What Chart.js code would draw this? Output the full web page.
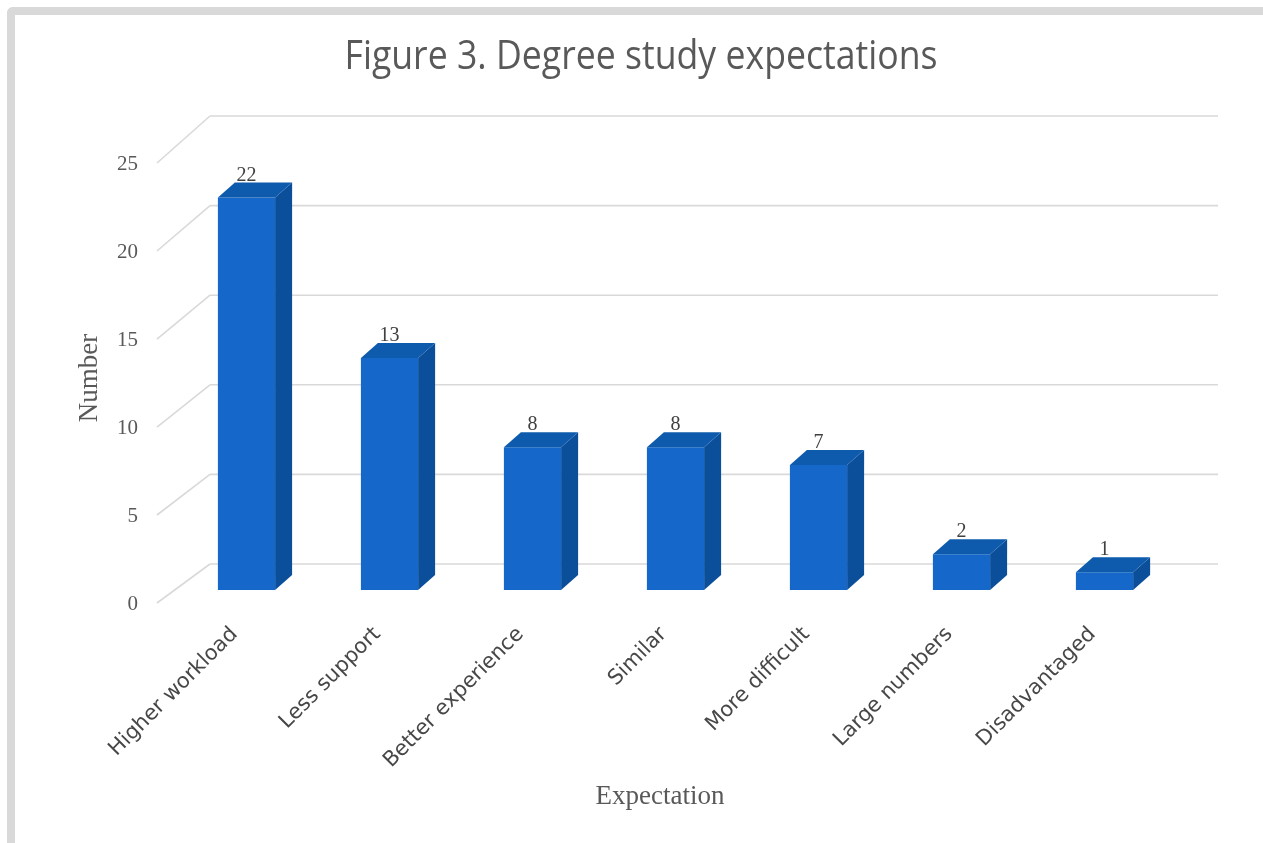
<!DOCTYPE html>
<html>
<head>
<meta charset="utf-8">
<script src="https://cdn.jsdelivr.net/npm/chart.js@4.4.1/dist/chart.umd.min.js"></script>
<style>
  html, body { margin: 0; padding: 0; background: #ffffff; overflow: hidden; }
  #frame {
    position: absolute; left: 7px; top: 7px; width: 1300px; height: 900px;
    border-left: 8px solid #d9d9d9; border-top: 8px solid #d9d9d9;
    border-top-left-radius: 6px; box-sizing: border-box; background: #ffffff;
  }
  #wrap { position: absolute; left: 0; top: 0; width: 1263px; height: 843px; }
</style>
</head>
<body>
<div id="frame"></div>
<div id="wrap"><canvas id="c" width="1263" height="843"></canvas></div>
<script>
// ---- data ----
const chartTitle = "Figure 3. Degree study expectations";
const xAxisTitle = "Expectation";
const yAxisTitle = "Number";
const categories = ["Higher workload", "Less support", "Better experience", "Similar", "More difficult", "Large numbers", "Disadvantaged"];
const values = [22, 13, 8, 8, 7, 2, 1];
const yTicks = [0, 5, 10, 15, 20, 25];
const yMin = 0;
const yMax = 25;

// ---- styling ----
const FRONT = "#1568c9";
const SIDE = "#0b4f9b";
const TOP = "#0e5bad";
const GRID = "#d9d9d9";
const TXT = "#595959";
const DEPTH_X = 17, DEPTH_Y = 15;

const excel3d = {
  id: "excel3d",
  beforeDatasetsDraw(chart) {
    const ctx = chart.ctx, ca = chart.chartArea, ys = chart.scales.y;
    const base = ys.getPixelForValue(0);
    const backY = py => base - 26 + (py - base) * 1.0045;
    const frontY = py => base + 13 + (py - base) * 0.9865;
    ctx.save();
    ctx.strokeStyle = GRID;
    ctx.lineWidth = 1.6;
    yTicks.forEach(v => {
      const py = ys.getPixelForValue(v);
      ctx.beginPath();
      ctx.moveTo(ca.left + 35, backY(py));
      ctx.lineTo(ca.right + 42, backY(py));
      ctx.stroke();
      ctx.beginPath();
      ctx.moveTo(ca.left - 18, frontY(py));
      ctx.lineTo(ca.left + 35, backY(py));
      ctx.stroke();
    });
    ctx.restore();
  },
  afterDatasetsDraw(chart) {
    const ctx = chart.ctx;
    const meta = chart.getDatasetMeta(0);
    ctx.save();
    meta.data.forEach((bar, i) => {
      const p = bar.getProps(["x", "y", "base", "width"], true);
      const x0 = p.x - p.width / 2, x1 = p.x + p.width / 2;
      const yt = p.y, yb = p.base;
      // side face
      ctx.fillStyle = SIDE;
      ctx.beginPath();
      ctx.moveTo(x1, yt);
      ctx.lineTo(x1 + DEPTH_X, yt - DEPTH_Y);
      ctx.lineTo(x1 + DEPTH_X, yb - DEPTH_Y);
      ctx.lineTo(x1, yb);
      ctx.closePath();
      ctx.fill();
      // top face
      ctx.fillStyle = TOP;
      ctx.beginPath();
      ctx.moveTo(x0, yt);
      ctx.lineTo(x1, yt);
      ctx.lineTo(x1 + DEPTH_X, yt - DEPTH_Y);
      ctx.lineTo(x0 + DEPTH_X, yt - DEPTH_Y);
      ctx.closePath();
      ctx.fill();
      // data label
      ctx.fillStyle = "#404040";
      ctx.font = "20px 'Liberation Serif', 'DejaVu Serif', serif";
      ctx.textAlign = "center";
      ctx.textBaseline = "alphabetic";
      ctx.fillText(String(values[i]), p.x, yt - DEPTH_Y - 2);
    });
    ctx.restore();
  },
  afterDraw(chart) {
    const ctx = chart.ctx, ca = chart.chartArea, ys = chart.scales.y, xs = chart.scales.x;
    const base = ys.getPixelForValue(0);
    const frontY = py => base + 13 + (py - base) * 0.9865;
    ctx.save();
    // title
    ctx.fillStyle = TXT;
    ctx.font = "41px 'Open Sans', 'DejaVu Sans', sans-serif";
    ctx.textBaseline = "middle";
    ctx.textAlign = "center";
    const tw = ctx.measureText(chartTitle).width;
    const sx = 593 / tw;
    ctx.save();
    ctx.translate(641, 57);
    ctx.scale(sx, 1);
    ctx.fillText(chartTitle, 0, 0);
    ctx.restore();
    // y tick labels
    ctx.font = "21px 'Liberation Serif', 'DejaVu Serif', serif";
    ctx.textAlign = "right";
    ctx.textBaseline = "middle";
    yTicks.forEach(v => {
      ctx.fillText(String(v), ca.left - 37, frontY(ys.getPixelForValue(v)) + 1);
    });
    // y title
    ctx.font = "27px 'Liberation Serif', 'DejaVu Serif', serif";
    ctx.save();
    ctx.translate(90, 378);
    ctx.rotate(-Math.PI / 2);
    ctx.textAlign = "center";
    ctx.fillText(yAxisTitle, 0, 0);
    ctx.restore();
    // x title
    ctx.textAlign = "center";
    ctx.fillText(xAxisTitle, 660, 797);
    // category labels
    ctx.font = "21px 'DejaVu Sans', 'Noto Sans', sans-serif";
    ctx.fillStyle = "#474747";
    categories.forEach((c, i) => {
      const px = xs.getPixelForValue(i);
      ctx.save();
      ctx.translate(px - 12, base + 41);
      ctx.rotate(-Math.PI / 4);
      ctx.textAlign = "right";
      ctx.textBaseline = "middle";
      ctx.fillText(c, 0, 0);
      ctx.restore();
    });
    ctx.restore();
  }
};

new Chart(document.getElementById("c"), {
  type: "bar",
  data: {
    labels: categories,
    datasets: [{
      data: values,
      backgroundColor: FRONT,
      borderWidth: 0,
      barPercentage: 0.4,
      categoryPercentage: 1.0
    }]
  },
  options: {
    responsive: false,
    animation: false,
    layout: { padding: { left: 175, right: 87, top: 144, bottom: 253 } },
    plugins: { legend: { display: false }, tooltip: { enabled: false }, title: { display: false } },
    scales: {
      x: { display: false, offset: true, grid: { display: false } },
      y: { display: false, min: yMin, max: yMax, grid: { display: false } }
    }
  },
  plugins: [excel3d]
});
</script>
</body>
</html>
